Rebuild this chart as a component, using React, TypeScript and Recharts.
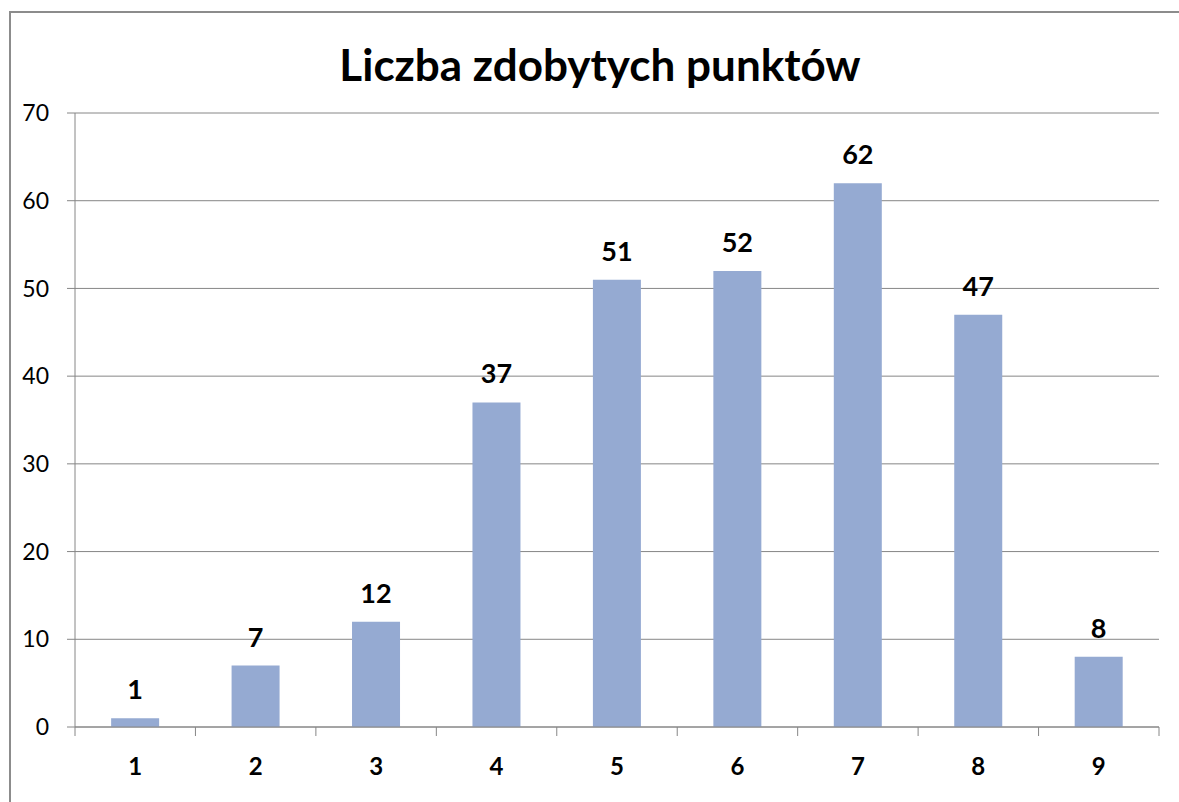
import React from 'react';
import { BarChart, Bar, XAxis, YAxis, CartesianGrid, LabelList } from 'recharts';

const title = 'Liczba zdobytych punktów';
const categories = ['1', '2', '3', '4', '5', '6', '7', '8', '9'];
const counts = [1, 7, 12, 37, 51, 52, 62, 47, 8];
const yTicks = [0, 10, 20, 30, 40, 50, 60, 70];

const data = categories.map((c, i) => ({ cat: c, pos: i + 1, value: counts[i] }));
const boundaryTicks = [...categories.map((_, i) => i + 0.5), categories.length + 0.5];

const FONT = 'Lato, "Open Sans", sans-serif';
const GRID = '#868686';

export default function App() {
  return (
    <div style={{ position: 'absolute', left: 0, top: 0, width: 1179, height: 802, overflow: 'hidden', background: '#fff' }}>
      <div style={{ position: 'absolute', left: 9, top: 11, width: 1300, height: 900, border: '2px solid #8c8c8c', boxSizing: 'border-box' }} />
      <div style={{ position: 'absolute', left: 0, width: 1200, top: 42, textAlign: 'center', fontFamily: FONT, fontWeight: 700, fontSize: 44, lineHeight: 1, color: '#000' }}>
        {title}
      </div>
      <div style={{ position: 'absolute', left: 0, top: 0 }}>
        <BarChart width={1179} height={802} data={data} margin={{ top: 113, right: 20, left: 0, bottom: 73 }} barCategoryGap="30%">
          <CartesianGrid vertical={false} stroke={GRID} strokeWidth={1} xAxisId="cat" />
          <XAxis
            xAxisId="cat"
            dataKey="cat"
            height={1}
            tickLine={false}
            axisLine={false}
            tickSize={0}
            tickMargin={30}
            tick={{ fill: '#000', fontSize: 24, fontWeight: 700, fontFamily: FONT }}
          />
          <XAxis
            xAxisId="bounds"
            dataKey="pos"
            type="number"
            domain={[0.5, categories.length + 0.5]}
            ticks={boundaryTicks}
            tickFormatter={() => ''}
            height={1}
            tickSize={9}
            stroke={GRID}
            tickLine={{ stroke: GRID }}
            axisLine={{ stroke: GRID }}
            allowDataOverflow
          />
          <YAxis
            width={75}
            domain={[0, 70]}
            ticks={yTicks}
            tickSize={8}
            tickMargin={18}
            stroke={GRID}
            axisLine={{ stroke: GRID }}
            tickLine={{ stroke: GRID }}
            tick={{ fill: '#000', fontSize: 23, fontFamily: FONT }}
          />
          <Bar dataKey="value" xAxisId="cat" fill="#95AAD2" isAnimationActive={false}>
            <LabelList dataKey="value" position="top" offset={19} fill="#000" fontSize={27} fontWeight={700} fontFamily={FONT} />
          </Bar>
        </BarChart>
      </div>
    </div>
  );
}
